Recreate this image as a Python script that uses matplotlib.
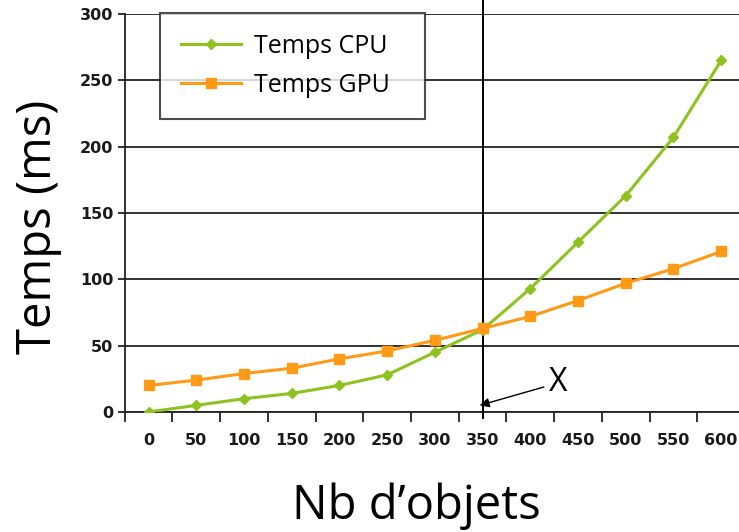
import matplotlib
matplotlib.use("Agg")
import matplotlib.pyplot as plt
import numpy as np

# données
nb_objets = [0, 50, 100, 150, 200, 250, 300, 350, 400, 450, 500, 550, 600]
temps_cpu = [0, 5, 10, 14, 20, 28, 45, 62, 93, 128, 163, 207, 265]
temps_gpu = [20, 24, 29, 33, 40, 46, 54, 63, 72, 84, 97, 108, 121]
seuil_x = 350

vert = '#8DC21F'
orange = '#FF9A17'

fig = plt.figure(figsize=(7.39, 5.32), dpi=100)
ax = fig.add_axes([0.1687, 0.2256, 0.8394, 0.748])

ax.plot(nb_objets, temps_cpu, color=vert, lw=2.2, marker='D', ms=5.5,
        label='Temps CPU', zorder=4)
ax.plot(nb_objets, temps_gpu, color=orange, lw=2.2, marker='s', ms=7,
        label='Temps GPU', zorder=4)

ax.set_xlim(-25, 625)
ax.set_ylim(0, 300)

# grille horizontale
ax.set_yticks(np.arange(0, 301, 50))
ax.yaxis.grid(True, color='#222222', lw=1.3)
ax.set_axisbelow(True)

# abscisses en catégories : traits entre les catégories
ax.set_xticks(nb_objets)
ax.set_xticks(np.arange(-25, 626, 50), minor=True)
ax.tick_params(axis='x', which='major', length=0, pad=15)
ax.tick_params(axis='x', which='minor', length=7, width=1.3, color='#222222')
ax.tick_params(axis='y', length=5, width=1.3, color='#222222', pad=3)
for lab in ax.get_xticklabels() + ax.get_yticklabels():
    lab.set_fontfamily('DejaVu Sans')
    lab.set_fontweight('bold')
    lab.set_fontsize(11.5)
    lab.set_color('#1a1a1a')

for s in ['top', 'right']:
    ax.spines[s].set_visible(False)
ax.spines['left'].set_color('#222222')
ax.spines['left'].set_linewidth(1.3)
ax.spines['bottom'].set_color('#222222')
ax.spines['bottom'].set_linewidth(1.3)

# ligne verticale au seuil
ax.axvline(seuil_x, ymin=-0.015, ymax=1.04, color='black', lw=1.4,
           clip_on=False, zorder=3)
ax.annotate('X', xy=(seuil_x - 3, 5), xytext=(420, 22),
            fontsize=23, family='Open Sans', va='center', ha='left',
            arrowprops=dict(arrowstyle='-|>', color='black', lw=1,
                            mutation_scale=14, shrinkA=2, shrinkB=0))

ax.set_ylabel('Temps (ms)', fontsize=34, family='Open Sans')
ax.yaxis.set_label_coords(-0.101, 0.465)
ax.set_xlabel('Nb d\u2019objets', fontsize=34, family='Open Sans')
ax.xaxis.set_label_coords(0.4696, -0.178)

leg = ax.legend(loc='upper left', bbox_to_anchor=(0.0569, 1.003, 0.427, 0.0),
                mode='expand',
                prop={'family': 'Open Sans', 'size': 18}, frameon=True,
                fancybox=False, edgecolor='#222222', borderpad=0.85,
                handlelength=2.4, labelspacing=0.55, handletextpad=0.5,
                borderaxespad=0)
leg.get_frame().set_linewidth(1.5)

fig.savefig('out.png', dpi=100)
